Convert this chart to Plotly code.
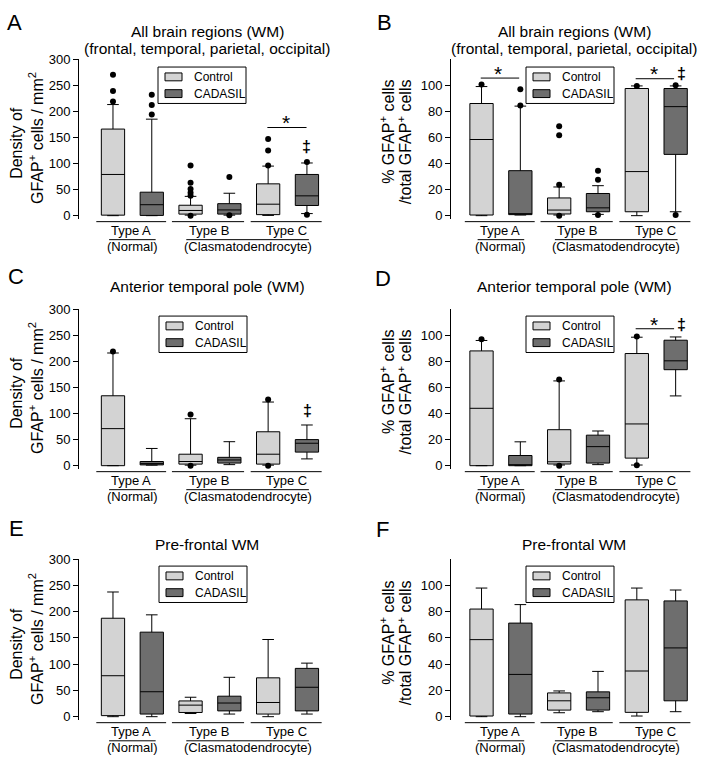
import plotly.graph_objects as go

W, H = 709, 764
FONT = "Liberation Sans, Arial, sans-serif"

GROUPS = ["Type A", "Type B", "Type C"]
SUBGROUPS = ["(Normal)", "(Clasmatodendrocyte)"]
SERIES = ["Control", "CADASIL"]
COLORS = ["#d3d3d3", "#6e6e6e"]

# Box statistics per group (Type A, Type B, Type C):
# [lower whisker, Q1, median, Q3, upper whisker]
# Panel A: all brain regions, density
A_CTRL = [[0, 1, 79, 166, 213], [1, 3, 10, 20, 37], [0.5, 2, 22, 61, 95]]
A_CAD = [[0, 0.5, 21, 45, 185], [1, 3, 11, 23, 43], [4, 19.5, 38, 79, 101]]
A_CTRL_OUT = [[270, 239, 219], [96, 63, 51, 44, 38, 0], [147, 125, 96]]
A_CAD_OUT = [[232, 212, 194], [74, 1], [103, 2]]

# Panel B: all brain regions, percentage
B_CTRL = [[0, 0.5, 58.4, 86, 99], [0.5, 1.3, 4.3, 13.6, 22], [0, 3, 33.8, 97.5, 99.5]]
B_CAD = [[0.5, 0.8, 1, 34.5, 84], [1, 3, 6, 17, 23], [3, 47, 83.6, 97.5, 99.5]]
B_CTRL_OUT = [[100.5], [68.5, 61.7, 23.7, 0], [99.5]]
B_CAD_OUT = [[97, 84.5], [34.5, 27.5, 0.5], [100, 0.5]]

# Panel C: anterior temporal pole, density
C_CTRL = [[0, 0, 71, 134, 216], [1, 3, 8, 22, 90], [1, 3, 22, 65, 122]]
C_CAD = [[1, 1.5, 4, 8, 33], [2, 5, 11, 16, 46], [13, 26, 43, 50, 78]]
C_CTRL_OUT = [[219], [98, 0], [127, 0]]
C_CAD_OUT = [[], [], []]

# Panel D: anterior temporal pole, percentage
D_CTRL = [[0, 0, 44, 88, 96], [0.5, 1.3, 3, 27.6, 65], [0.5, 5.8, 32, 86, 98.5]]
D_CAD = [[0, 0, 0.5, 7.8, 18.3], [0.8, 2, 14.6, 23.4, 26.6], [53.5, 73.6, 80.4, 96.2, 98.7]]
D_CTRL_OUT = [[97], [66, 0], [99, 0.3]]
D_CAD_OUT = [[], [], []]

# Panel E: pre-frontal WM, density
E_CTRL = [[0, 2, 78, 187.5, 237.5], [6, 8, 22, 30, 37], [0, 5, 27, 74, 147]]
E_CAD = [[0, 5, 47.5, 161, 194], [5, 11, 26, 39, 75], [5, 11, 56, 92, 102]]
E_CTRL_OUT = [[], [], []]
E_CAD_OUT = [[], [], []]

# Panel F: pre-frontal WM, percentage
F_CTRL = [[0, 0.5, 58.7, 82, 98], [3, 5, 12.1, 18.1, 19.6], [0.5, 3.3, 34.8, 89, 98]]
F_CAD = [[0, 2, 32.2, 71.3, 85.4], [3.8, 5, 14.4, 18.9, 34.5], [3.8, 12.1, 52.4, 88.2, 96.5]]
F_CTRL_OUT = [[], [], []]
F_CAD_OUT = [[], [], []]

LETTERS = ["A", "B", "C", "D", "E", "F"]
TITLES = [
    "All brain regions (WM)<br>(frontal, temporal, parietal, occipital)",
    "All brain regions (WM)<br>(frontal, temporal, parietal, occipital)",
    "Anterior temporal pole (WM)",
    "Anterior temporal pole (WM)",
    "Pre-frontal WM",
    "Pre-frontal WM",
]
DENSITY_TICKS = [0, 50, 100, 150, 200, 250, 300]
PERCENT_TICKS = [0, 20, 40, 60, 80, 100]

# significance bars: (panel, x0, x1, y) and symbols: (panel, x, y, text)
SIG_LINES = [(0, 3.98, 4.99, 169), (1, -0.02, 0.97, 105.5), (1, 3.97, 4.96, 105), (3, 3.97, 4.96, 105)]
SIG_TEXT = [
    (0, 4.47, 181, "*"), (0, 5.0, 133, "‡"),
    (1, 0.42, 111, "*"), (1, 4.45, 111, "*"), (1, 5.15, 109, "‡"),
    (2, 5.02, 106, "‡"),
    (3, 4.45, 110, "*"), (3, 5.15, 108, "‡"),
]

PANELS = [
    (A_CTRL, A_CAD, A_CTRL_OUT, A_CAD_OUT),
    (B_CTRL, B_CAD, B_CTRL_OUT, B_CAD_OUT),
    (C_CTRL, C_CAD, C_CTRL_OUT, C_CAD_OUT),
    (D_CTRL, D_CAD, D_CTRL_OUT, D_CAD_OUT),
    (E_CTRL, E_CAD, E_CTRL_OUT, E_CAD_OUT),
    (F_CTRL, F_CAD, F_CTRL_OUT, F_CAD_OUT),
]

# ---------------- layout geometry (pixels) ----------------
ROW_TOP = [53, 307, 561]
ROW_BOT = [215, 469, 724]
ROW_ZERO = [212, 466, 721]
COL_LEFT = [79, 451]
COL_RIGHT = [324, 697]
X_RANGE = [[-0.876, 5.44], [-0.786, 5.55]]
TITLE_Y = [[25, 42], [284], [546]]
TITLE_X = [207, 574]
LETTER_POS = [(15, 16), (384, 16), (16, 274), (383, 276), (16, 530), (382, 531)]
LEGEND_POS = [(158, 61), (526, 61), (159, 314), (526, 314), (159, 568), (526, 568)]
LEGEND_W, LEGEND_H = 88, 37


def py(p):
    return 1 - p / H


def px(p):
    return p / W


fig = go.Figure()
layout = dict(
    width=W, height=H, margin=dict(l=0, r=0, t=0, b=0),
    paper_bgcolor="white", plot_bgcolor="white",
    font=dict(family=FONT, size=13, color="black"),
    showlegend=False, annotations=[], shapes=[],
)


def tfont(size):
    return dict(size=size, family=FONT, color="black")


def prect(x0, y0, x1, y1, fill):
    return dict(type="rect", xref="paper", yref="paper", x0=px(x0), x1=px(x1),
                y0=py(y1), y1=py(y0), fillcolor=fill, line=dict(color="black", width=1),
                layer="above")


GROUP_LINES = [(-0.43, 1.37), (1.52, 3.38), (3.55, 5.38)]

for i, (ctrl, cad, ctrl_out, cad_out) in enumerate(PANELS):
    row, col = i // 2, i % 2
    sfx = "" if i == 0 else str(i + 1)
    xa, ya = "x" + sfx, "y" + sfx
    density = col == 0
    for s, (stats, outs) in enumerate([(ctrl, ctrl_out), (cad, cad_out)]):
        pos = [2 * g + s for g in range(3)]
        fig.add_trace(go.Box(
            x=pos,
            lowerfence=[v[0] for v in stats], q1=[v[1] for v in stats],
            median=[v[2] for v in stats], q3=[v[3] for v in stats],
            upperfence=[v[4] for v in stats],
            width=0.6, whiskerwidth=0.5, boxpoints=False,
            fillcolor=COLORS[s], line=dict(color="black", width=1),
            name=SERIES[s], xaxis=xa, yaxis=ya, hoverinfo="skip",
        ))
        ox, oy = [], []
        for g in range(3):
            for v in outs[g]:
                ox.append(2 * g + s)
                oy.append(v)
        fig.add_trace(go.Scatter(
            x=ox, y=oy, mode="markers", marker=dict(color="black", size=6),
            xaxis=xa, yaxis=ya, hoverinfo="skip", cliponaxis=False,
        ))

    top = 300 if density else 120
    yr = [-(ROW_BOT[row] - ROW_ZERO[row]) * top / (ROW_ZERO[row] - ROW_TOP[row]), top]
    ticks = DENSITY_TICKS if density else PERCENT_TICKS

    layout["xaxis" + sfx] = dict(
        domain=[px(COL_LEFT[col]), px(COL_RIGHT[col])], range=X_RANGE[col],
        visible=False, anchor=ya, fixedrange=True,
    )
    layout["yaxis" + sfx] = dict(
        domain=[py(ROW_BOT[row]), py(ROW_TOP[row])], range=yr, anchor=xa,
        showline=True, linecolor="black", linewidth=1, ticks="outside", ticklen=5,
        tickcolor="black", tickwidth=1, tickvals=ticks, showgrid=False, zeroline=False,
        tickfont=tfont(13), fixedrange=True,
    )

    # legend (drawn box)
    lx, ly = LEGEND_POS[i]
    layout["shapes"].append(prect(lx, ly, lx + LEGEND_W, ly + LEGEND_H, "white"))
    for s, dy in enumerate([10, 27]):
        layout["shapes"].append(prect(lx + 7, ly + dy - 4, lx + 24, ly + dy + 4, COLORS[s]))
        layout["annotations"].append(dict(
            text=SERIES[s], xref="paper", yref="paper", x=px(lx + 34), y=py(ly + dy),
            showarrow=False, font=tfont(12), xanchor="left", yanchor="middle",
        ))

    # group lines and labels below the axis
    for g, (g0, g1) in enumerate(GROUP_LINES):
        layout["shapes"].append(dict(
            type="line", xref=xa, yref=ya + " domain", x0=g0, x1=g1, y0=-0.019, y1=-0.019,
            line=dict(color="black", width=1),
        ))
        layout["annotations"].append(dict(
            text=GROUPS[g], xref=xa, yref=ya + " domain", x=2 * g + 0.47, y=-0.076,
            showarrow=False, font=tfont(13), xanchor="center", yanchor="middle",
        ))
    for (cx, half, label) in [(0.5, 0.6, SUBGROUPS[0]), (3.47, 1.58, SUBGROUPS[1])]:
        layout["shapes"].append(dict(
            type="line", xref=xa, yref=ya + " domain", x0=cx - half, x1=cx + half,
            y0=-0.132, y1=-0.132, line=dict(color="black", width=1),
        ))
        layout["annotations"].append(dict(
            text=label, xref=xa, yref=ya + " domain", x=cx, y=-0.176,
            showarrow=False, font=tfont(13), xanchor="center", yanchor="middle",
        ))

    # titles
    tys = TITLE_Y[row]
    lines = TITLES[i].split("<br>")
    for k, t in enumerate(lines):
        layout["annotations"].append(dict(
            text=t, xref="paper", yref="paper", x=px(TITLE_X[col]), y=py(tys[k]),
            showarrow=False, font=tfont(15.5), xanchor="center", yanchor="middle",
        ))
    # panel letters
    lxp, lyp = LETTER_POS[i]
    layout["annotations"].append(dict(
        text=LETTERS[i], xref="paper", yref="paper", x=px(lxp), y=py(lyp),
        showarrow=False, font=tfont(22), xanchor="center", yanchor="middle",
    ))
    # y axis titles
    off = ROW_ZERO[row] - ROW_ZERO[0]
    if density:
        layout["annotations"].append(dict(
            text="Density of", xref="paper", yref="paper", x=px(17), y=py(138 + off),
            textangle=-90, showarrow=False, font=tfont(16),
            xanchor="center", yanchor="middle",
        ))
        layout["annotations"].append(dict(
            text="GFAP<sup>+</sup> cells / mm<sup>2</sup>", xref="paper", yref="paper",
            x=px(36), y=py(133 + off), textangle=-90, showarrow=False,
            font=tfont(16), xanchor="center", yanchor="middle",
        ))
    else:
        layout["annotations"].append(dict(
            text="% GFAP<sup>+</sup> cells", xref="paper", yref="paper", x=px(387),
            y=py(72 + off), textangle=-90, showarrow=False, font=tfont(16),
            xanchor="center", yanchor="top",
        ))
        layout["annotations"].append(dict(
            text="/total GFAP<sup>+</sup> cells", xref="paper", yref="paper", x=px(405),
            y=py(72 + off), textangle=-90, showarrow=False, font=tfont(16),
            xanchor="center", yanchor="top",
        ))

for (p, x0, x1, y) in SIG_LINES:
    sfx = "" if p == 0 else str(p + 1)
    layout["shapes"].append(dict(
        type="line", xref="x" + sfx, yref="y" + sfx, x0=x0, x1=x1, y0=y, y1=y,
        line=dict(color="black", width=1),
    ))
for (p, x, y, t) in SIG_TEXT:
    sfx = "" if p == 0 else str(p + 1)
    txt = t if t == "*" else "<b>" + t + "</b>"
    layout["annotations"].append(dict(
        text=txt, xref="x" + sfx, yref="y" + sfx, x=x, y=y + (-2 if t == "*" else 0),
        showarrow=False, font=tfont(21 if t == "*" else 16), xanchor="center", yanchor="middle",
    ))

fig.update_layout(**layout)
fig.write_html(
    "out.html",
    config={"displayModeBar": False},
    post_script="document.body.style.margin='0';document.body.style.padding='0';"
                "document.body.style.overflow='hidden';",
)
